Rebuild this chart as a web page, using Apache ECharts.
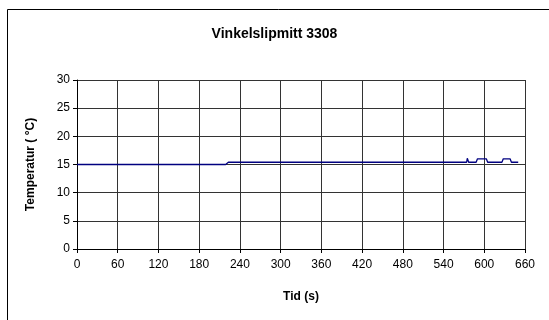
<!DOCTYPE html>
<html><head><meta charset="utf-8">
<script src="https://cdn.jsdelivr.net/npm/echarts@6/dist/echarts.min.js"></script>
<style>html,body{margin:0;padding:0;background:#fff;}#c{width:549px;height:320px;}</style>
</head><body><div id="c"></div>
<script>
const titleText = 'Vinkelslipmitt 3308';
const xAxisName = 'Tid (s)';
const yAxisName = 'Temperatur ( °C)';
const times = [0, 219, 221, 223, 574, 575, 576, 577, 588, 590, 603, 605, 626, 628, 638, 640, 650];
const temps = [15.0, 15.0, 15.2, 15.4, 15.4, 16.1, 16.1, 15.4, 15.4, 16.0, 16.0, 15.4, 15.4, 16.0, 16.0, 15.4, 15.4];
const xTicks = [0, 60, 120, 180, 240, 300, 360, 420, 480, 540, 600, 660];
const yTicks = [0, 5, 10, 15, 20, 25, 30];

const chart = echarts.init(document.getElementById('c'), null, {renderer: 'canvas'});
const font = 'Liberation Sans, Arial, sans-serif';
chart.setOption({
  animation: false,
  backgroundColor: '#fff',
  title: {text: titleText, left: 'center', top: 22,
    textStyle: {fontFamily: font, fontSize: 14, fontWeight: 'bold', color: '#000'}},
  grid: {left: 77, right: 24, top: 80, bottom: 71, show: false},
  graphic: [{type: 'rect', shape: {x: 7.5, y: 9.5, width: 700, height: 500},
    style: {fill: 'none', stroke: '#000', lineWidth: 1}, silent: true, z: -10}],
  xAxis: {type: 'value', min: xTicks[0], max: xTicks[xTicks.length-1], interval: 60,
    name: xAxisName, nameLocation: 'middle', nameGap: 42,
    nameTextStyle: {fontFamily: font, fontSize: 12, fontWeight: 'bold', color: '#000'},
    axisLine: {show: true, lineStyle: {color: '#000', width: 1}},
    axisTick: {show: true, inside: false, length: 4, lineStyle: {color: '#000'}},
    axisLabel: {fontFamily: font, fontSize: 12, color: '#000', margin: 10},
    splitLine: {show: true, lineStyle: {color: '#333', width: 1}}},
  yAxis: {type: 'value', min: yTicks[0], max: yTicks[yTicks.length-1], interval: 5,
    name: yAxisName, nameLocation: 'middle', nameGap: 40, nameRotate: 90,
    nameTextStyle: {fontFamily: font, fontSize: 12, fontWeight: 'bold', color: '#000'},
    axisLine: {show: true, lineStyle: {color: '#000', width: 1}},
    axisTick: {show: true, inside: false, length: 4, lineStyle: {color: '#000'}},
    axisLabel: {fontFamily: font, fontSize: 12, color: '#000', margin: 7},
    splitLine: {show: true, lineStyle: {color: '#333', width: 1}}},
  series: [{type: 'line', data: times.map((t, i) => [t, temps[i]]),
    showSymbol: false, symbol: 'none',
    lineStyle: {color: '#000080', width: 1.3}}]
});
</script></body></html>
